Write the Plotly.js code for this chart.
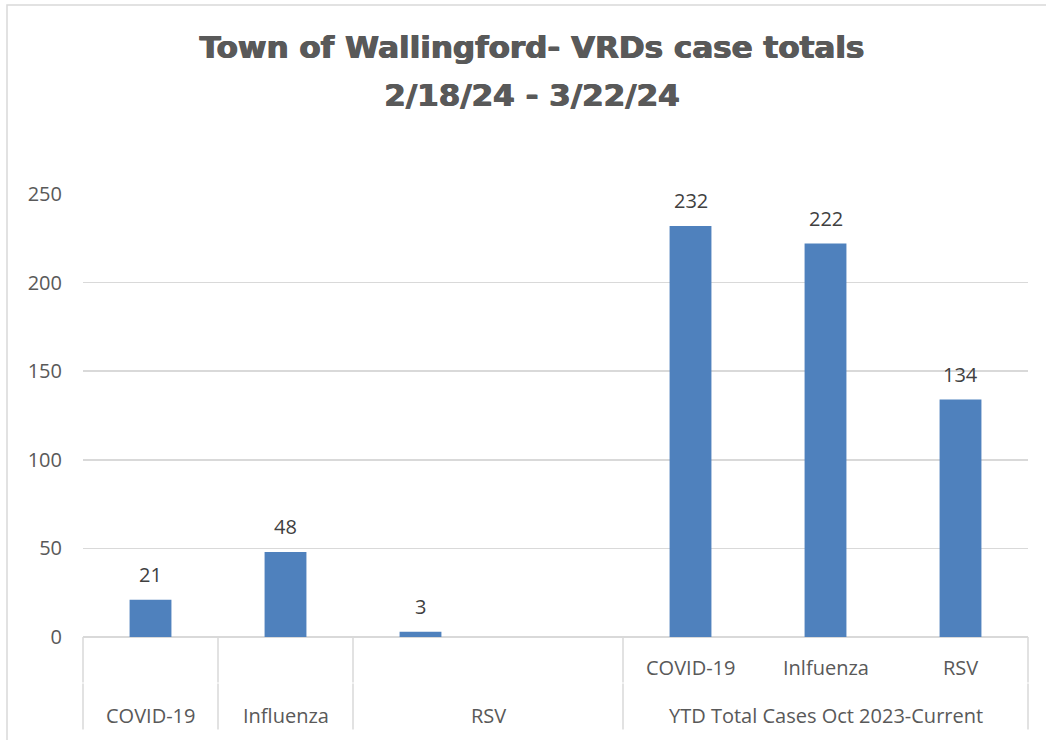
<!DOCTYPE html>
<html>
<head>
<meta charset="utf-8">
<script src="https://cdn.plot.ly/plotly-3.0.1.min.js"></script>
<style>
  html, body { margin: 0; padding: 0; background: #ffffff; }
  #chart { width: 1046px; height: 740px; }
</style>
</head>
<body>
<div id="chart"></div>
<script>
// ---- data ----
const titleLines = ["Town of Wallingford- VRDs case totals", "2/18/24 - 3/22/24"];
const weekDiseases = ["COVID-19", "Influenza", "RSV"];
const weekValues = [21, 48, 3];
const ytdGroupLabel = "YTD Total Cases Oct 2023-Current";
const ytdDiseases = ["COVID-19", "Inlfuenza", "RSV"];
const ytdValues = [232, 222, 134];
const yTicks = [0, 50, 100, 150, 200, 250];

// ---- slot layout (one blank slot after the weekly group, as in the source) ----
const weekX = weekDiseases.map((_, i) => i);
const ytdX = ytdDiseases.map((_, i) => weekDiseases.length + 1 + i);
const nSlots = weekDiseases.length + 1 + ytdDiseases.length;
const xRange = [-0.5, nSlots - 0.5];
const toPaper = s => (s - xRange[0]) / (xRange[1] - xRange[0]);

// lower-tier spans: each weekly disease is its own slot, RSV also covers the blank slot
const lowerSpans = weekDiseases.map((d, i) => ({
  label: d, from: i, to: (i === weekDiseases.length - 1) ? i + 1 : i
}));
lowerSpans.push({ label: ytdGroupLabel, from: ytdX[0], to: ytdX[ytdX.length - 1] });

const BLUE = '#4F81BD';
const GRID = '#D9D9D9';
const LABEL_FONT = { family: 'Open Sans, Noto Sans, sans-serif', size: 20, color: '#595959' };
const VALUE_FONT = { family: 'Open Sans, Noto Sans, sans-serif', size: 20, color: '#404040' };

const traces = [
  { type: 'bar', x: weekX, y: weekValues, width: 0.31,
    marker: { color: BLUE }, hoverinfo: 'y', showlegend: false },
  { type: 'bar', x: ytdX, y: ytdValues, width: 0.31,
    marker: { color: BLUE }, hoverinfo: 'y', showlegend: false }
];

const annotations = [];
weekX.forEach((x, i) => annotations.push({
  x: x, y: weekValues[i], xref: 'x', yref: 'y', text: String(weekValues[i]),
  showarrow: false, yanchor: 'middle', yshift: 25, font: VALUE_FONT
}));
ytdX.forEach((x, i) => annotations.push({
  x: x, y: ytdValues[i], xref: 'x', yref: 'y', text: String(ytdValues[i]),
  showarrow: false, yanchor: 'middle', yshift: 25, font: VALUE_FONT
}));
// upper tier labels
ytdX.forEach((x, i) => annotations.push({
  x: x, y: 0, xref: 'x', yref: 'paper', text: ytdDiseases[i],
  showarrow: false, yanchor: 'middle', yshift: -30, font: LABEL_FONT
}));
// lower tier labels
lowerSpans.forEach(s => annotations.push({
  x: (s.from + s.to) / 2, y: 0, xref: 'x', yref: 'paper', text: s.label,
  showarrow: false, yanchor: 'middle', yshift: -78, font: LABEL_FONT
}));

// plot area pixel geometry (for paper-coordinate shapes)
const M = { l: 83, r: 18, t: 194, b: 103 };
const plotH = 740 - M.t - M.b;
const plotW = 1046 - M.l - M.r;
const pyFromPx = py => (740 - M.b - py) / plotH;
const pxFromPx = px => (px - M.l) / plotW;

const shapes = [];
// outer chart border (left/top visible)
shapes.push({ type: 'rect', xref: 'paper', yref: 'paper',
  x0: pxFromPx(7), x1: pxFromPx(1060), y0: pyFromPx(760), y1: pyFromPx(5),
  line: { color: '#D9D9D9', width: 1.5 }, fillcolor: 'rgba(0,0,0,0)', layer: 'below' });
// category dividers
const upperDiv = new Set();
const lowerDiv = new Set();
lowerSpans.forEach(s => { lowerDiv.add(s.from - 0.5); lowerDiv.add(s.to + 0.5); });
lowerSpans.forEach(s => { upperDiv.add(s.from - 0.5); upperDiv.add(s.to + 0.5); });
upperDiv.forEach(b => shapes.push({ type: 'line', xref: 'paper', yref: 'paper',
  x0: toPaper(b), x1: toPaper(b), y0: pyFromPx(637), y1: pyFromPx(682.5),
  line: { color: GRID, width: 1.5 } }));
lowerDiv.forEach(b => shapes.push({ type: 'line', xref: 'paper', yref: 'paper',
  x0: toPaper(b), x1: toPaper(b), y0: pyFromPx(683.5), y1: pyFromPx(729.5),
  line: { color: GRID, width: 1.5 } }));

const layout = {
  width: 1046, height: 740,
  margin: M,
  paper_bgcolor: '#ffffff', plot_bgcolor: '#ffffff',
  title: {
    text: titleLines.map(t => '<span style="font-size:31px">' + t + '</span>').join('<br>'),
    font: { family: 'DejaVu Sans, sans-serif', size: 37, color: '#595959', weight: 'bold',
            shadow: '0.6px 0 0 #595959, -0.6px 0 0 #595959' },
    x: 532 / 1046, xref: 'container', xanchor: 'center',
    y: 1 - 58 / 740, yref: 'container', yanchor: 'top'
  },
  xaxis: {
    range: xRange, showgrid: false, zeroline: false, showticklabels: false,
    ticks: '', showline: false, fixedrange: true
  },
  yaxis: {
    range: [0, 250], tickvals: yTicks, ticktext: yTicks.map(String),
    showgrid: true, gridcolor: GRID, gridwidth: 1.5,
    zeroline: true, zerolinecolor: GRID, zerolinewidth: 2,
    showline: false, ticks: '', tickfont: LABEL_FONT, ticklabelstandoff: 20,
    fixedrange: true
  },
  bargap: 0.69,
  annotations: annotations,
  shapes: shapes,
  showlegend: false
};

Plotly.newPlot('chart', traces, layout, { displayModeBar: false, staticPlot: true });
</script>
</body>
</html>
